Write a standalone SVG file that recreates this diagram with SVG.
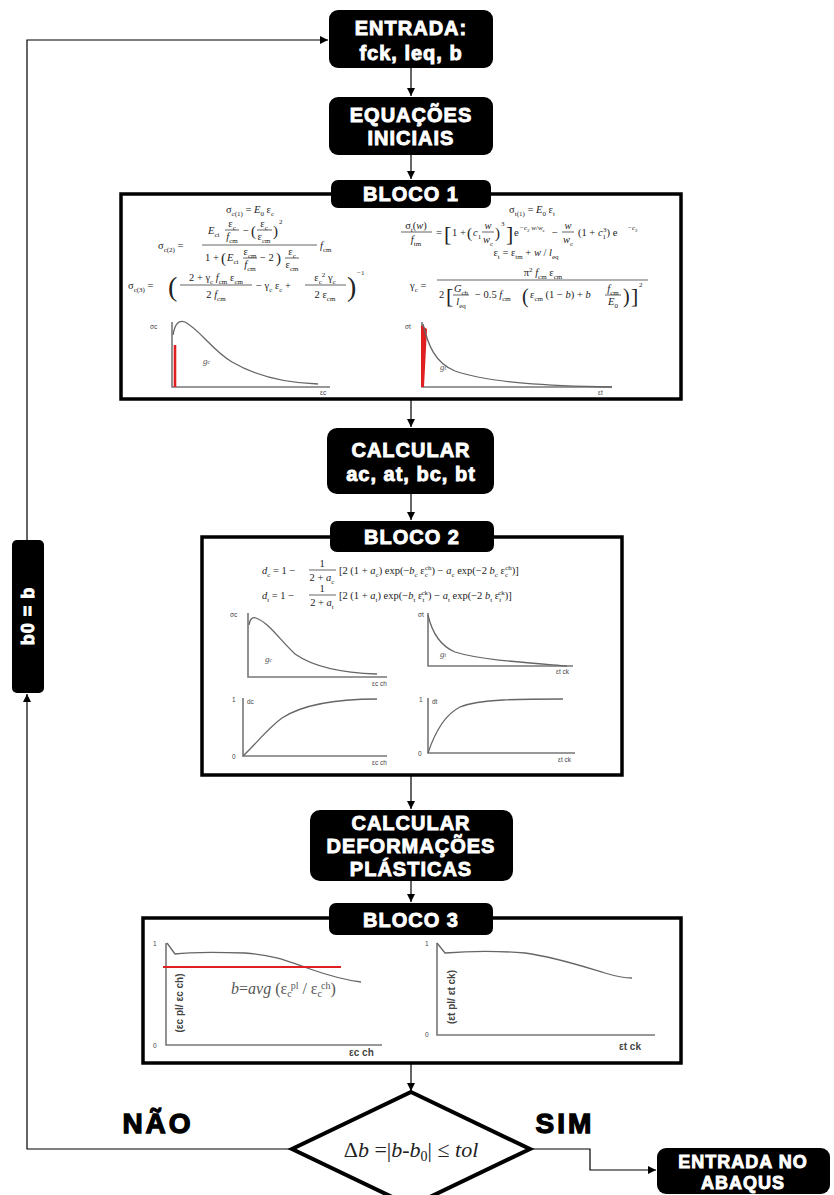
<svg xmlns="http://www.w3.org/2000/svg" width="834" height="1195" viewBox="0 0 834 1195">
<defs>
<marker id="ah" markerUnits="userSpaceOnUse" markerWidth="8" markerHeight="8" refX="8" refY="4" orient="auto"><path d="M0,0 L8,4 L0,8 z" fill="#000"/></marker>
<style>
.nb{fill:#000}
.nt{font-family:"Liberation Sans",Arial,sans-serif;font-weight:bold;font-size:20px;fill:#fff;stroke:#fff;stroke-width:0.9;text-anchor:middle;letter-spacing:1px}
.nt18{font-size:18px}
.blk{fill:#fff;stroke:#000;stroke-width:3.5}
.con{fill:none;stroke:#000;stroke-width:1.2}
.m{font-family:"Liberation Serif","Times New Roman",serif;font-size:10.5px;fill:#222}
.mc{text-anchor:middle}
.i{font-style:italic}
.sb{font-size:7px;baseline-shift:-2.5px}
.sp{font-size:7px;baseline-shift:4px}
.s7{font-size:7px}
.p15{font-size:15px}
.p20{font-size:20px}
.p22{font-size:22px}
.p28{font-size:28px}
.fb{stroke:#222;stroke-width:0.7}
.ax{fill:none;stroke:#777;stroke-width:1.6}
.cv{fill:none;stroke:#666;stroke-width:1.3}
.gl{font-family:"Liberation Sans",Arial,sans-serif;font-size:6.5px;fill:#444}
.gi{font-family:"Liberation Serif",serif;font-style:italic;font-size:9px;fill:#555}
.bl{font-family:"Liberation Sans",Arial,sans-serif;font-weight:bold;font-size:10px;fill:#444}
.big{font-family:"Liberation Sans",Arial,sans-serif;font-weight:bold;font-size:28px;fill:#000;stroke:#000;stroke-width:1.3;text-anchor:middle;letter-spacing:3px}
</style>
</defs>
<rect width="834" height="1195" fill="#fff"/>

<g id="connectors">
<path class="con" d="M411,68 V96" marker-end="url(#ah)"/>
<path class="con" d="M411,155 V179" marker-end="url(#ah)"/>
<path class="con" d="M411,399 V427" marker-end="url(#ah)"/>
<path class="con" d="M411,494 V520" marker-end="url(#ah)"/>
<path class="con" d="M411,776 V809" marker-end="url(#ah)"/>
<path class="con" d="M411,881 V902" marker-end="url(#ah)"/>
<path class="con" d="M411,1063 V1091" marker-end="url(#ah)"/>
<path class="con" d="M292,1149 H27 V694" marker-end="url(#ah)"/>
<path class="con" d="M27,540 V40 H328" marker-end="url(#ah)"/>
<path class="con" d="M530,1149 H590 V1170 H656" marker-end="url(#ah)"/>
</g>

<g id="entrada">
<rect class="nb" x="329" y="10" width="164" height="58" rx="9"/>
<text class="nt" x="411" y="35">ENTRADA:</text>
<text class="nt" x="411" y="60">fck, leq, b</text>
</g>

<g id="equacoes">
<rect class="nb" x="329" y="97" width="164" height="58" rx="9"/>
<text class="nt" x="411" y="122">EQUAÇÕES</text>
<text class="nt" x="411" y="145">INICIAIS</text>
</g>

<g id="bloco1">
<rect class="blk" x="121" y="194" width="560" height="205"/>
<rect class="nb" x="331" y="180" width="160" height="28" rx="7"/>
<text class="nt" x="411" y="201">BLOCO 1</text>
<!-- left equations -->
<text class="m mc" x="250" y="213">σ<tspan class="sb">c(1)</tspan> = <tspan class="i">E</tspan><tspan class="sb">0</tspan> ε<tspan class="sb">c</tspan></text>
<text class="m" x="158" y="249">σ<tspan class="sb">c(2)</tspan> =</text>
<text class="m" x="208" y="234"><tspan class="i">E</tspan><tspan class="sb">ci</tspan></text>
<text class="m mc" x="232" y="227">ε<tspan class="sb">c</tspan></text>
<line class="fb" x1="225" y1="230" x2="239" y2="230"/>
<text class="m mc" x="232" y="240"><tspan class="i">f</tspan><tspan class="sb">cm</tspan></text>
<text class="m" x="243" y="234">−</text>
<text class="m p15" x="251" y="236">(</text>
<text class="m mc" x="264" y="227">ε<tspan class="sb">c</tspan></text>
<line class="fb" x1="257" y1="230" x2="272" y2="230"/>
<text class="m mc" x="264" y="240">ε<tspan class="sb">cm</tspan></text>
<text class="m p15" x="273" y="236">)</text>
<text class="m s7" x="279" y="224">2</text>
<line class="fb" x1="202" y1="245" x2="317" y2="245"/>
<text class="m" x="205" y="261">1 +</text>
<text class="m p15" x="221" y="263">(</text>
<text class="m" x="227" y="261"><tspan class="i">E</tspan><tspan class="sb">ci</tspan></text>
<text class="m mc" x="250" y="255">ε<tspan class="sb">cm</tspan></text>
<line class="fb" x1="243" y1="258" x2="257" y2="258"/>
<text class="m mc" x="250" y="268"><tspan class="i">f</tspan><tspan class="sb">cm</tspan></text>
<text class="m" x="260" y="261">− 2</text>
<text class="m p15" x="276" y="263">)</text>
<text class="m mc" x="292" y="255">ε<tspan class="sb">c</tspan></text>
<line class="fb" x1="285" y1="258" x2="299" y2="258"/>
<text class="m mc" x="292" y="268">ε<tspan class="sb">cm</tspan></text>
<text class="m" x="320" y="249"><tspan class="i">f</tspan><tspan class="sb">cm</tspan></text>
<text class="m" x="128" y="289">σ<tspan class="sb">c(3)</tspan> =</text>
<text class="m p28" x="168" y="296">(</text>
<text class="m mc" x="216" y="281">2 + γ<tspan class="sb">c</tspan> <tspan class="i">f</tspan><tspan class="sb">cm</tspan> ε<tspan class="sb">cm</tspan></text>
<line class="fb" x1="180" y1="285" x2="252" y2="285"/>
<text class="m mc" x="216" y="298">2 <tspan class="i">f</tspan><tspan class="sb">cm</tspan></text>
<text class="m" x="256" y="289">− γ<tspan class="sb">c</tspan> ε<tspan class="sb">c</tspan> +</text>
<text class="m mc" x="325" y="281">ε<tspan class="sb">c</tspan><tspan class="sp">2</tspan> γ<tspan class="sb">c</tspan></text>
<line class="fb" x1="305" y1="285" x2="346" y2="285"/>
<text class="m mc" x="325" y="298">2 ε<tspan class="sb">cm</tspan></text>
<text class="m p28" x="347" y="296">)</text>
<text class="m s7" x="357" y="275">−1</text>
<!-- right equations -->
<text class="m mc" x="532" y="213">σ<tspan class="sb">t(1)</tspan> = <tspan class="i">E</tspan><tspan class="sb">0</tspan> ε<tspan class="sb">t</tspan></text>
<text class="m mc" x="416" y="229">σ<tspan class="sb">t</tspan>(<tspan class="i">w</tspan>)</text>
<line class="fb" x1="401" y1="232" x2="432" y2="232"/>
<text class="m mc" x="416" y="243"><tspan class="i">f</tspan><tspan class="sb">tm</tspan></text>
<text class="m" x="436" y="236">=</text>
<text class="m p22" x="444" y="241">[</text>
<text class="m" x="452" y="236">1 +</text>
<text class="m p15" x="467" y="238">(</text>
<text class="m" x="473" y="236"><tspan class="i">c</tspan><tspan class="sb">1</tspan></text>
<text class="m mc i" x="488" y="229">w</text>
<line class="fb" x1="482" y1="232" x2="494" y2="232"/>
<text class="m mc" x="488" y="243"><tspan class="i">w</tspan><tspan class="sb">c</tspan></text>
<text class="m p15" x="495" y="238">)</text>
<text class="m s7" x="501" y="226">3</text>
<text class="m p22" x="506" y="241">]</text>
<text class="m" x="514" y="236">e</text>
<text class="m s7" x="520" y="230">−<tspan class="i">c</tspan><tspan font-size="5" baseline-shift="-1.5">2</tspan> <tspan class="i">w</tspan>/<tspan class="i">w</tspan><tspan font-size="5" baseline-shift="-1.5">c</tspan></text>
<text class="m" x="552" y="236">−</text>
<text class="m mc i" x="568" y="229">w</text>
<line class="fb" x1="562" y1="232" x2="574" y2="232"/>
<text class="m mc" x="568" y="243"><tspan class="i">w</tspan><tspan class="sb">c</tspan></text>
<text class="m" x="578" y="236">(1 + <tspan class="i">c</tspan><tspan class="sb">1</tspan><tspan class="sp" dx="-3">3</tspan>) e</text>
<text class="m s7" x="628" y="230">−<tspan class="i">c</tspan><tspan font-size="5" baseline-shift="-1.5">2</tspan></text>
<text class="m mc" x="526" y="256">ε<tspan class="sb">t</tspan> = ε<tspan class="sb">tm</tspan> + <tspan class="i">w</tspan> / <tspan class="i">l</tspan><tspan class="sb">eq</tspan></text>
<text class="m" x="410" y="289">γ<tspan class="sb">c</tspan> =</text>
<text class="m mc" x="543" y="276">π<tspan class="sp">2</tspan> <tspan class="i">f</tspan><tspan class="sb">cm</tspan> ε<tspan class="sb">cm</tspan></text>
<line class="fb" x1="437" y1="280" x2="648" y2="280"/>
<text class="m" x="439" y="298">2</text>
<text class="m p22" x="446" y="303">[</text>
<text class="m mc" x="461" y="292"><tspan class="i">G</tspan><tspan class="sb">ch</tspan></text>
<line class="fb" x1="453" y1="295" x2="469" y2="295"/>
<text class="m mc" x="461" y="305"><tspan class="i">l</tspan><tspan class="sb">eq</tspan></text>
<text class="m" x="475" y="298">− 0.5 <tspan class="i">f</tspan><tspan class="sb">cm</tspan></text>
<text class="m p20" x="522" y="303">(</text>
<text class="m" x="530" y="298">ε<tspan class="sb">cm</tspan> (1 − <tspan class="i">b</tspan>) + <tspan class="i">b</tspan></text>
<text class="m mc" x="613" y="292"><tspan class="i">f</tspan><tspan class="sb">cm</tspan></text>
<line class="fb" x1="605" y1="295" x2="621" y2="295"/>
<text class="m mc" x="613" y="305"><tspan class="i">E</tspan><tspan class="sb">0</tspan></text>
<text class="m p20" x="623" y="303">)</text>
<text class="m p22" x="631" y="303">]</text>
<text class="m s7" x="639" y="287">2</text>
<!-- graphs -->
<path class="ax" d="M172,322 V387 H330"/>
<line x1="175" y1="345" x2="175" y2="387" stroke="#e02020" stroke-width="2.6"/>
<path class="cv" d="M173,335 C175,323 179,320 185,322 C200,330 212,350 232,362 C256,376 285,383 318,384"/>
<text class="gl" x="150" y="329">σc</text>
<text class="gi" x="203" y="364">g<tspan font-size="6">c</tspan></text>
<text class="gl" x="320" y="395">εc</text>
<path class="ax" d="M422,322 V387 H612"/>
<path d="M421,325 L427,329 L424,387 L421,387 z" fill="#e02020"/>
<path class="cv" d="M423,324 C428,345 435,363 455,371 C490,383 550,386 612,387"/>
<text class="gl" x="405" y="329">σt</text>
<text class="gi" x="440" y="370">g<tspan font-size="6">t</tspan></text>
<text class="gl" x="598" y="395">εt</text>
</g>

<g id="calcular1">
<rect class="nb" x="327" y="428" width="167" height="66" rx="10"/>
<text class="nt" x="411" y="457">CALCULAR</text>
<text class="nt" x="411" y="481">ac, at, bc, bt</text>
</g>

<g id="bloco2">
<rect class="blk" x="202" y="537" width="420" height="238"/>
<rect class="nb" x="330" y="521" width="164" height="31" rx="7"/>
<text class="nt" x="412" y="544">BLOCO 2</text>
<text class="m" x="262" y="574"><tspan class="i">d</tspan><tspan class="sb">c</tspan> = 1 −</text>
<text class="m mc" x="322" y="567">1</text>
<line class="fb" x1="309" y1="570" x2="336" y2="570"/>
<text class="m mc" x="322" y="581">2 + <tspan class="i">a</tspan><tspan class="sb">c</tspan></text>
<text class="m" x="339" y="574">[2 (1 + <tspan class="i">a</tspan><tspan class="sb">c</tspan>) exp(−<tspan class="i">b</tspan><tspan class="sb">c</tspan> ε<tspan class="sb">c</tspan><tspan class="sp" dx="-3">ch</tspan>) − <tspan class="i">a</tspan><tspan class="sb">c</tspan> exp(−2 <tspan class="i">b</tspan><tspan class="sb">c</tspan> ε<tspan class="sb">c</tspan><tspan class="sp" dx="-3">ch</tspan>)]</text>
<text class="m" x="262" y="599"><tspan class="i">d</tspan><tspan class="sb">t</tspan> = 1 −</text>
<text class="m mc" x="322" y="592">1</text>
<line class="fb" x1="309" y1="595" x2="336" y2="595"/>
<text class="m mc" x="322" y="606">2 + <tspan class="i">a</tspan><tspan class="sb">t</tspan></text>
<text class="m" x="339" y="599">[2 (1 + <tspan class="i">a</tspan><tspan class="sb">t</tspan>) exp(−<tspan class="i">b</tspan><tspan class="sb">t</tspan> ε<tspan class="sb">t</tspan><tspan class="sp" dx="-3">ck</tspan>) − <tspan class="i">a</tspan><tspan class="sb">t</tspan> exp(−2 <tspan class="i">b</tspan><tspan class="sb">t</tspan> ε<tspan class="sb">t</tspan><tspan class="sp" dx="-3">ck</tspan>)]</text>
<!-- graphs -->
<path class="ax" d="M248,613 V677 H387"/>
<path class="cv" d="M249,625 C250,618 253,617 256,618 C268,622 280,640 295,654 C315,668 345,673 377,674"/>
<text class="gl" x="230" y="617">σc</text>
<text class="gi" x="265" y="662">g<tspan font-size="6">c</tspan></text>
<text class="gl" x="372" y="686">εc ch</text>
<path class="ax" d="M428,613 V666 H573"/>
<path class="cv" d="M428,615 C431,628 438,645 455,652 C480,660 530,663 567,666"/>
<text class="gl" x="418" y="617">σt</text>
<text class="gi" x="440" y="657">g<tspan font-size="6">t</tspan></text>
<text class="gl" x="556" y="674">εt ck</text>
<path class="ax" d="M243,698 V756 H387"/>
<path class="cv" d="M243,756 C255,745 268,728 282,718 C305,703 340,699 377,699"/>
<text class="gl" x="232" y="702">1</text>
<text class="gl" x="247" y="704">dc</text>
<text class="gl" x="232" y="759">0</text>
<text class="gl" x="372" y="765">εc ch</text>
<path class="ax" d="M428,698 V753 H575"/>
<path class="cv" d="M428,753 C434,735 444,715 460,707 C480,699 520,699 563,699"/>
<text class="gl" x="419" y="702">1</text>
<text class="gl" x="432" y="704">dt</text>
<text class="gl" x="418" y="756">0</text>
<text class="gl" x="558" y="762">εt ck</text>
</g>

<g id="calcular2">
<rect class="nb" x="310" y="810" width="203" height="71" rx="10"/>
<text class="nt" x="411" y="830">CALCULAR</text>
<text class="nt" x="411" y="853">DEFORMAÇÕES</text>
<text class="nt" x="411" y="876">PLÁSTICAS</text>
</g>

<g id="bloco3">
<rect class="blk" x="143" y="918" width="538" height="145"/>
<rect class="nb" x="329" y="903" width="164" height="32" rx="7"/>
<text class="nt" x="411" y="927">BLOCO 3</text>
<path class="ax" d="M166,943 V1045 H382"/>
<path class="cv" d="M167,943 L175,954 C190,952 215,952 245,953 C275,955 290,962 310,969 C330,976 345,980 361,982"/>
<line x1="163" y1="967" x2="341" y2="967" stroke="#e02020" stroke-width="2"/>
<text class="gl" x="153" y="946">1</text>
<text class="gl" x="153" y="1048">0</text>
<text class="bl" transform="translate(183,1003) rotate(-90)" text-anchor="middle">(εc pl/ εc ch)</text>
<text class="bl" x="349" y="1056">εc ch</text>
<text x="231" y="994" font-family="'Liberation Serif',serif" font-size="16" fill="#555"><tspan font-style="italic">b</tspan>=<tspan font-style="italic">avg</tspan> (ε<tspan font-size="10" baseline-shift="-3">c</tspan><tspan font-size="10" baseline-shift="5" dx="-1">pl</tspan> / ε<tspan font-size="10" baseline-shift="-3">c</tspan><tspan font-size="10" baseline-shift="5" dx="-1">ch</tspan>)</text>
<path class="ax" d="M437,943 V1035 H655"/>
<path class="cv" d="M437,943 L445,953 C470,951 500,951 525,953 C555,957 585,967 605,973 C618,977 625,978 632,978"/>
<text class="gl" x="425" y="946">1</text>
<text class="gl" x="425" y="1037">0</text>
<text class="bl" transform="translate(455,997) rotate(-90)" text-anchor="middle">(εt pl/ εt ck)</text>
<text class="bl" x="619" y="1050">εt ck</text>
</g>

<g id="decisao">
<polygon points="411,1092 530,1149 411,1206 292,1149" fill="#fff" stroke="#000" stroke-width="4"/>
<text x="411" y="1157" text-anchor="middle" font-family="'Liberation Serif',serif" font-size="22" fill="#222">Δ<tspan font-style="italic">b</tspan> =|<tspan font-style="italic">b</tspan>-<tspan font-style="italic">b</tspan><tspan font-size="14" baseline-shift="-4">0</tspan>| ≤ <tspan font-style="italic">tol</tspan></text>
</g>

<g id="labels">
<text class="big" x="158" y="1133">NÃO</text>
<text class="big" x="565" y="1133">SIM</text>
</g>

<g id="abaqus">
<rect class="nb" x="657" y="1148" width="173" height="46" rx="9"/>
<text class="nt nt18" x="743" y="1168">ENTRADA NO</text>
<text class="nt nt18" x="743" y="1189">ABAQUS</text>
</g>

<g id="b0node">
<rect class="nb" x="12" y="540" width="32" height="153" rx="5"/>
<text class="nt nt18" transform="translate(34,616) rotate(-90)">b0 = b</text>
</g>
</svg>
